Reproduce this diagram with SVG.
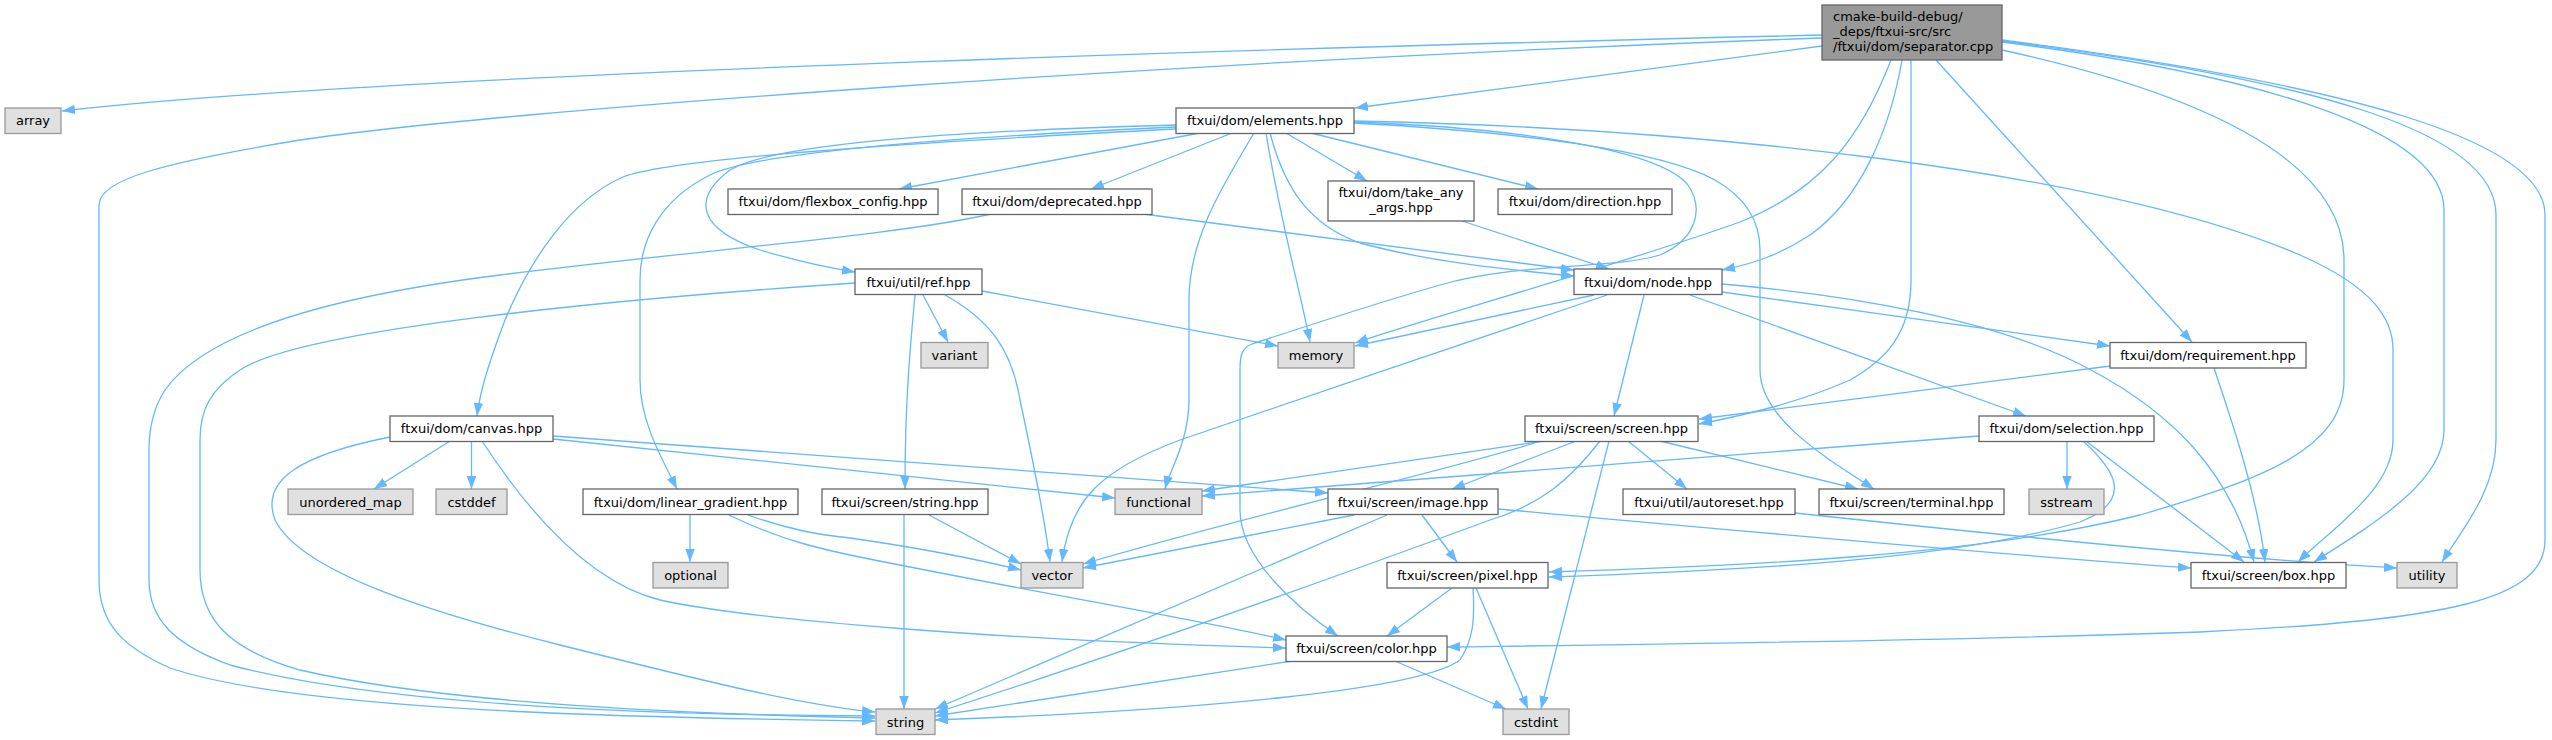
<svg xmlns="http://www.w3.org/2000/svg" width="2552" height="740" viewBox="0 0 2552 740">
<defs>
<marker id="a" markerUnits="userSpaceOnUse" markerWidth="13" markerHeight="10" refX="13" refY="4.75" orient="auto">
<path d="M0,0 L13,4.75 L0,9.5 z" fill="#63b8ff"/>
</marker>
<style>
.n rect{fill:#ffffff;stroke:#666666;stroke-width:1.3}
.x rect{fill:#e0e0e0;stroke:#999999;stroke-width:1.3}
.s rect{fill:#999999;stroke:#666666;stroke-width:1.3}
text{font-family:"DejaVu Sans","Liberation Sans",sans-serif;font-size:13px;fill:#000000;text-anchor:middle}
.s text{text-anchor:start}
#edges path{fill:none;stroke:#63b8ff;stroke-width:1.3;marker-end:url(#a)}
</style>
</defs>
<rect width="2552" height="740" fill="#ffffff"/>
<g id="edges">
<path d="M1822,35 C1400,45 400,72 62,111"/>
<path d="M1822,38 C1200,60 500,110 300,140 C160,163 99,180 99,205 L99,580 C99,625 125,648 170,668 C300,712 650,718 875,721"/>
<path d="M1822,46 L1355,108"/>
<path d="M1891,60 C1860,140 1820,190 1740,222 C1620,265 1420,320 1355,343"/>
<path d="M1902,60 C1890,130 1860,200 1810,235 C1780,255 1752,264 1722,270"/>
<path d="M1936,60 L2192,342"/>
<path d="M1911,60 L1911,280 C1911,335 1885,360 1850,380 C1800,402 1750,414 1699,424"/>
<path d="M2002,50 C2230,100 2344,170 2344,260 L2344,380 C2344,450 2260,480 2140,515 C1980,555 1750,566 1549,572"/>
<path d="M2002,42 C2260,75 2444,130 2444,210 L2444,430 C2444,480 2380,520 2314,562"/>
<path d="M2002,41 C2310,80 2496,130 2496,215 L2496,440 C2496,490 2462,530 2442,562"/>
<path d="M2002,40 C2350,85 2545,140 2545,215 L2545,540 C2545,600 2450,620 2200,632 C1900,642 1600,645 1447,647"/>
<path d="M1200,133 L899,189"/>
<path d="M1232,133 L1091,189"/>
<path d="M1286,133 L1367,181"/>
<path d="M1311,133 L1538,189"/>
<path d="M1176,125 C1000,130 780,140 730,170 C690,200 700,230 760,250 C800,262 830,268 855,272"/>
<path d="M1176,127 C1000,135 760,150 710,175 C660,200 640,240 640,280 L640,380 C640,420 660,455 677,489"/>
<path d="M1176,129 C1000,138 680,155 623,177 C570,200 530,260 505,320 C490,360 480,390 477,416"/>
<path d="M1254,133 C1220,190 1189,240 1189,300 L1189,400 C1189,440 1170,470 1165,489"/>
<path d="M1266,133 C1280,220 1300,290 1310,342"/>
<path d="M1270,133 C1285,190 1310,225 1360,243 C1430,262 1510,270 1574,276"/>
<path d="M1354,123 C1520,132 1660,150 1715,180 C1750,200 1760,225 1760,250 L1760,370 C1760,420 1830,460 1874,489"/>
<path d="M1354,121 C1700,128 2100,170 2300,255 C2375,288 2393,320 2393,350 L2393,440 C2393,490 2330,530 2298,562"/>
<path d="M1354,122 C1520,128 1660,150 1688,185 C1705,210 1695,240 1660,255 C1610,270 1520,262 1440,285 C1360,308 1280,335 1252,344 C1242,348 1240,355 1240,370 L1240,510 C1240,560 1300,610 1338,636"/>
<path d="M1143,214 C1300,235 1450,255 1574,270"/>
<path d="M991,214 C900,235 700,250 500,275 C300,300 200,340 165,390 C152,410 149,430 149,450 L149,580 C149,620 175,645 230,665 C380,705 650,715 875,716"/>
<path d="M1462,221 L1609,269"/>
<path d="M1594,295 L1355,346"/>
<path d="M1607,295 C1500,330 1300,400 1180,440 C1100,470 1070,500 1062,562"/>
<path d="M1644,295 L1614,416"/>
<path d="M1722,292 C1850,310 2000,330 2110,346"/>
<path d="M1690,295 L2026,416"/>
<path d="M1722,284 C1850,295 2000,320 2091,370 C2170,412 2230,470 2254,562"/>
<path d="M915,295 C910,350 905,400 905,489"/>
<path d="M923,295 L948,342"/>
<path d="M945,295 C990,320 1012,350 1020,400 C1035,470 1045,520 1050,562"/>
<path d="M982,291 L1278,346"/>
<path d="M855,283 C600,300 300,330 240,370 C210,390 200,410 200,440 L200,570 C200,620 230,650 300,670 C450,705 700,714 875,718"/>
<path d="M2214,368 C2235,430 2258,500 2265,562"/>
<path d="M2110,366 L1699,419"/>
<path d="M450,441 L374,489"/>
<path d="M471.5,441 L471.5,489"/>
<path d="M390,437 C300,455 260,480 275,520 C300,570 420,610 560,645 C700,680 800,705 875,712"/>
<path d="M482,441 C540,530 600,585 660,600 C750,620 1000,640 1286,648"/>
<path d="M553,439 L1115,498"/>
<path d="M553,436 L1328,493"/>
<path d="M690,515 L690,562"/>
<path d="M748,515 C790,530 820,535 850,538 C920,548 980,560 1021,570"/>
<path d="M729,515 C780,540 820,550 900,565 C1050,595 1200,620 1286,640"/>
<path d="M1979,436 L1202,496"/>
<path d="M2067,441 L2067,489"/>
<path d="M2086,441 L2244,562"/>
<path d="M2083,441 C2115,470 2135,500 2080,522 C1950,560 1750,570 1549,577"/>
<path d="M1544,441 L1202,491"/>
<path d="M1541,441 C1450,470 1250,515 1083,564"/>
<path d="M1576,441 L1452,489"/>
<path d="M1600,441 C1570,480 1540,505 1490,520 C1300,590 1100,660 935,713"/>
<path d="M1609,441 L1541,709"/>
<path d="M1628,441 L1687,489"/>
<path d="M1660,441 L1858,489"/>
<path d="M1354,515 L1083,568"/>
<path d="M1387,515 L935,709"/>
<path d="M1422,515 L1457,562"/>
<path d="M1498,509 C1700,527 2000,555 2191,568"/>
<path d="M1452,588 L1387,636"/>
<path d="M1473,588 C1475,620 1473,640 1460,660 C1420,690 1200,710 935,720"/>
<path d="M1476,588 L1528,709"/>
<path d="M1292,661 L935,716"/>
<path d="M1395,661 L1506,709"/>
<path d="M904,515 L904,709"/>
<path d="M929,515 L1021,564"/>
<path d="M1795,513 C2000,535 2250,560 2397,568"/>
</g>
<g id="separator_cpp" class="s"><rect x="1822" y="5" width="180" height="55"/><text x="1833" y="21">cmake-build-debug/</text><text x="1833" y="36">_deps/ftxui-src/src</text><text x="1833" y="51">/ftxui/dom/separator.cpp</text></g>
<g id="array" class="x"><rect x="5" y="108" width="56" height="25.5"/><text x="33" y="125">array</text></g>
<g id="elements_hpp" class="n"><rect x="1176" y="108" width="178" height="25.5"/><text x="1265" y="125">ftxui/dom/elements.hpp</text></g>
<g id="flexbox_config_hpp" class="n"><rect x="728" y="189" width="210" height="25.5"/><text x="833" y="206">ftxui/dom/flexbox_config.hpp</text></g>
<g id="deprecated_hpp" class="n"><rect x="962" y="189" width="190" height="25.5"/><text x="1057" y="206">ftxui/dom/deprecated.hpp</text></g>
<g id="take_any_args_hpp" class="n"><rect x="1328" y="181" width="146" height="40"/><text x="1401" y="197">ftxui/dom/take_any</text><text x="1401" y="212">_args.hpp</text></g>
<g id="direction_hpp" class="n"><rect x="1498" y="189" width="174" height="25.5"/><text x="1585" y="206">ftxui/dom/direction.hpp</text></g>
<g id="ref_hpp" class="n"><rect x="855" y="269" width="127" height="25.5"/><text x="918.5" y="286.5">ftxui/util/ref.hpp</text></g>
<g id="node_hpp" class="n"><rect x="1574" y="269" width="148" height="25.5"/><text x="1648" y="286.5">ftxui/dom/node.hpp</text></g>
<g id="variant" class="x"><rect x="921" y="342.5" width="67" height="25.5"/><text x="954.5" y="359.5">variant</text></g>
<g id="memory" class="x"><rect x="1278" y="342.5" width="76" height="25.5"/><text x="1316" y="359.5">memory</text></g>
<g id="requirement_hpp" class="n"><rect x="2110" y="342.5" width="196" height="25.5"/><text x="2208" y="359.5">ftxui/dom/requirement.hpp</text></g>
<g id="canvas_hpp" class="n"><rect x="390" y="416" width="163" height="25.5"/><text x="471.5" y="433">ftxui/dom/canvas.hpp</text></g>
<g id="screen_hpp" class="n"><rect x="1525" y="416" width="173" height="25.5"/><text x="1611.5" y="433">ftxui/screen/screen.hpp</text></g>
<g id="selection_hpp" class="n"><rect x="1979" y="416" width="175" height="25.5"/><text x="2066.5" y="433">ftxui/dom/selection.hpp</text></g>
<g id="unordered_map" class="x"><rect x="288" y="489" width="125" height="25.5"/><text x="350.5" y="506.5">unordered_map</text></g>
<g id="cstddef" class="x"><rect x="436" y="489" width="71" height="25.5"/><text x="471.5" y="506.5">cstddef</text></g>
<g id="linear_gradient_hpp" class="n"><rect x="583" y="489" width="215" height="25.5"/><text x="690.5" y="506.5">ftxui/dom/linear_gradient.hpp</text></g>
<g id="string_hpp" class="n"><rect x="822" y="489" width="166" height="25.5"/><text x="905" y="506.5">ftxui/screen/string.hpp</text></g>
<g id="functional" class="x"><rect x="1115" y="489" width="87" height="25.5"/><text x="1158.5" y="506.5">functional</text></g>
<g id="image_hpp" class="n"><rect x="1328" y="489" width="170" height="25.5"/><text x="1413" y="506.5">ftxui/screen/image.hpp</text></g>
<g id="autoreset_hpp" class="n"><rect x="1623" y="489" width="172" height="25.5"/><text x="1709" y="506.5">ftxui/util/autoreset.hpp</text></g>
<g id="terminal_hpp" class="n"><rect x="1819" y="489" width="185" height="25.5"/><text x="1911.5" y="506.5">ftxui/screen/terminal.hpp</text></g>
<g id="sstream" class="x"><rect x="2029" y="489" width="75" height="25.5"/><text x="2066.5" y="506.5">sstream</text></g>
<g id="optional" class="x"><rect x="653" y="562.5" width="75" height="25.5"/><text x="690.5" y="579.5">optional</text></g>
<g id="vector" class="x"><rect x="1021" y="562.5" width="62" height="25.5"/><text x="1052" y="579.5">vector</text></g>
<g id="pixel_hpp" class="n"><rect x="1387" y="562.5" width="161" height="25.5"/><text x="1467.5" y="579.5">ftxui/screen/pixel.hpp</text></g>
<g id="box_hpp" class="n"><rect x="2191" y="562.5" width="155" height="25.5"/><text x="2268.5" y="579.5">ftxui/screen/box.hpp</text></g>
<g id="utility" class="x"><rect x="2397" y="562.5" width="60" height="25.5"/><text x="2427" y="579.5">utility</text></g>
<g id="color_hpp" class="n"><rect x="1286" y="636" width="161" height="25.5"/><text x="1366.5" y="653">ftxui/screen/color.hpp</text></g>
<g id="string" class="x"><rect x="876" y="709" width="59" height="25.5"/><text x="905.5" y="726.5">string</text></g>
<g id="cstdint" class="x"><rect x="1503" y="709" width="66" height="25.5"/><text x="1536" y="726.5">cstdint</text></g>
</svg>
